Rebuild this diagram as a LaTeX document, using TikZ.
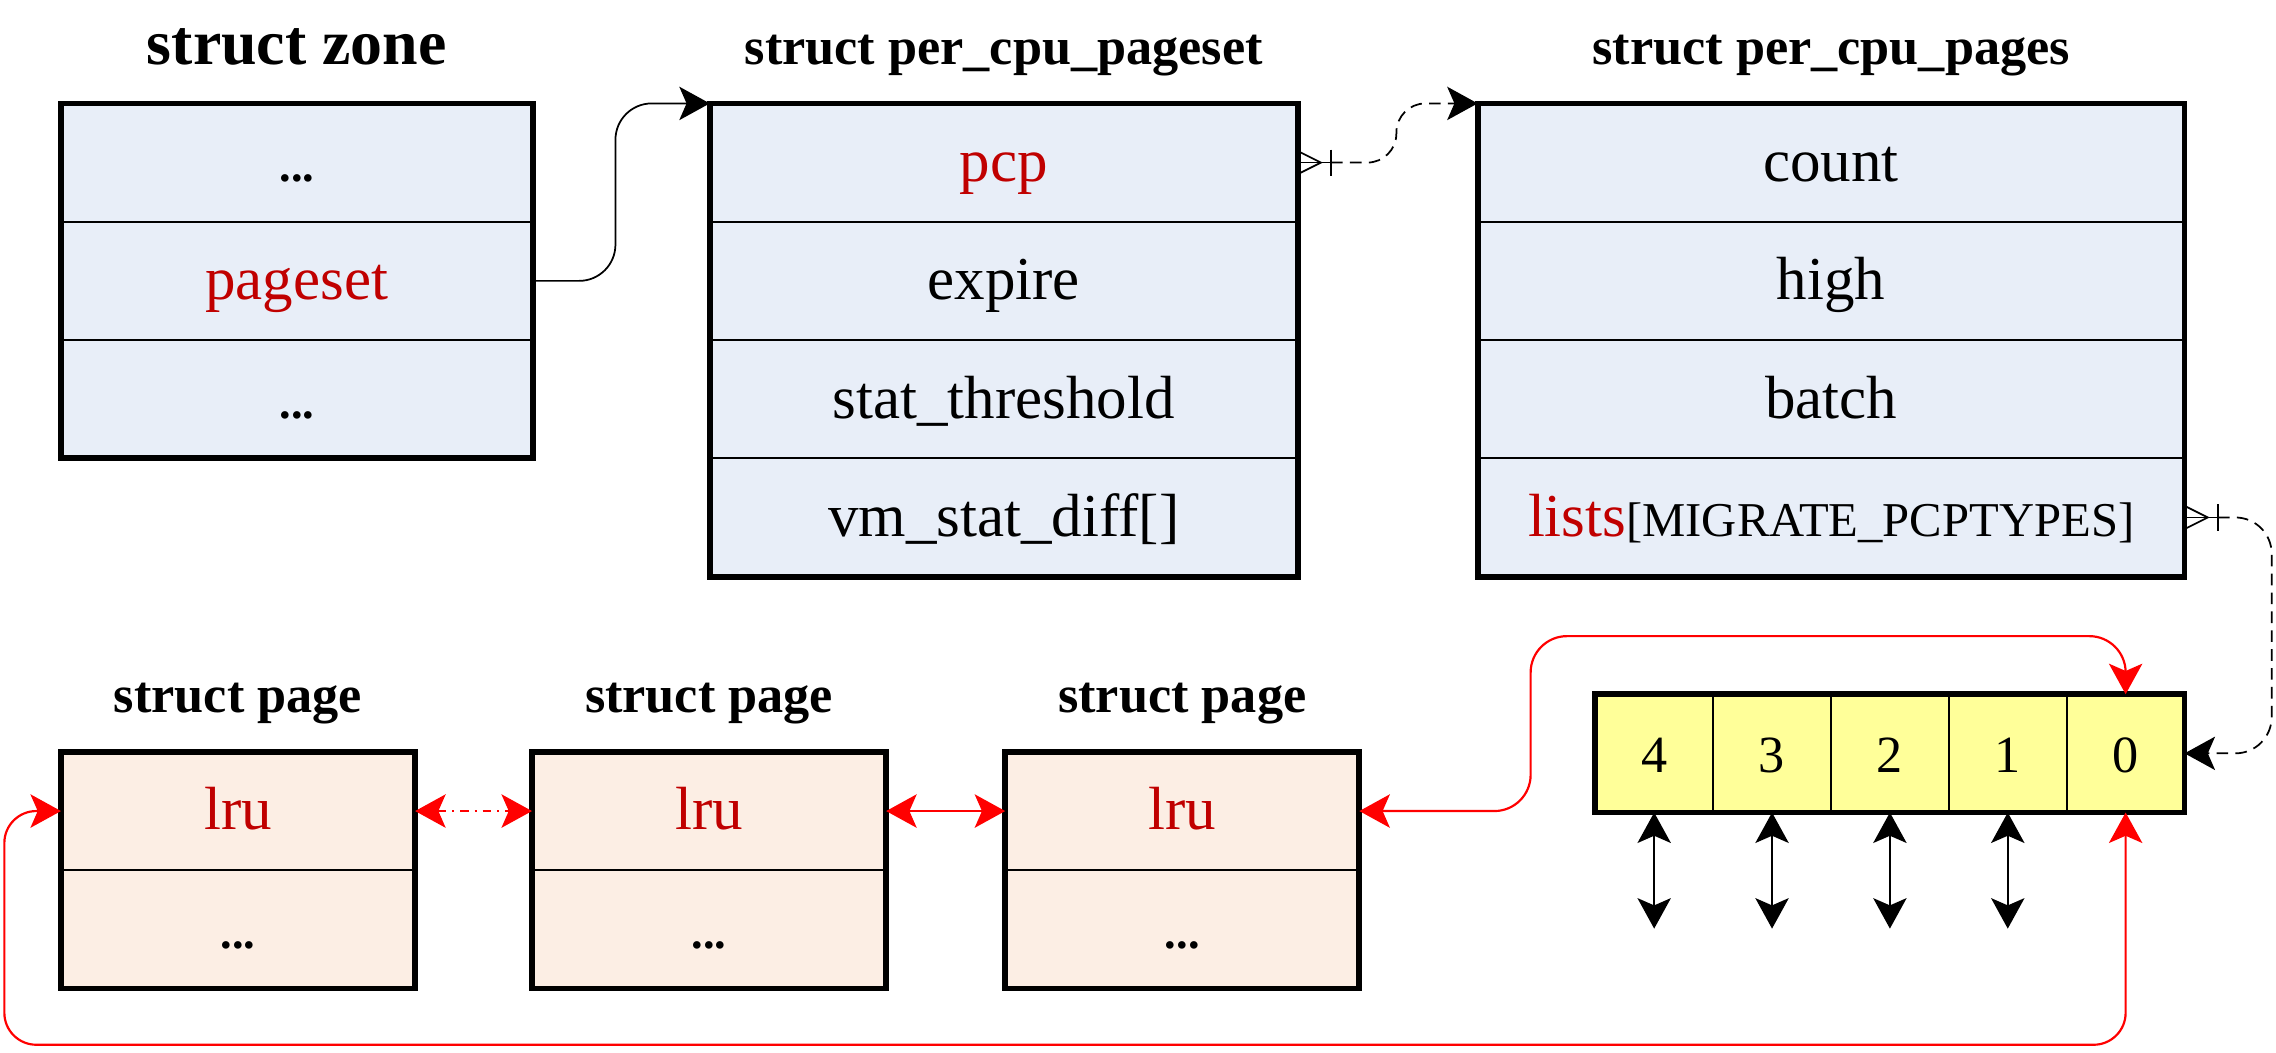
\documentclass[tikz,border=0pt]{standalone}
\usepackage{fontspec}
\setmainfont{Liberation Serif}
\usepackage{xcolor}
\usepackage{tikz}
\usetikzlibrary{arrows.meta,positioning}

\definecolor{structblue}{HTML}{E8EEF8}
\definecolor{pagepeach}{HTML}{FCEEE4}
\definecolor{arrayyellow}{HTML}{FFFF99}
\definecolor{fieldred}{HTML}{C00000}
\definecolor{linkred}{HTML}{FF0000}

\newcommand{\bodyfont}{\fontsize{42}{48}\selectfont}
\newcommand{\titlefont}{\fontsize{36}{42}\selectfont\bfseries}
\newcommand{\zonefont}{\fontsize{44}{50}\selectfont\bfseries}
\newcommand{\dotsfont}{\fontsize{32}{36}\selectfont\bfseries}
\newcommand{\digitfont}{\fontsize{36}{40}\selectfont}

\tikzset{
  crowfoot/.pic={
    \draw[line width=1.2pt] (0,-8) -- (16,0) -- (0,8);
    \draw[line width=1.2pt] (0,0) -- (23,0);
    \draw[line width=1.2pt] (23,-9) -- (23,9);
  }
}

\begin{document}
\begin{tikzpicture}[x=1pt, y=-1pt,
  >={Stealth[length=21pt,width=23pt,inset=5pt]},
  field/.style={draw, line width=1.2pt, fill=structblue, minimum width=#1,
    minimum height=81.5pt, inner sep=0pt, outer sep=0pt, font=\bodyfont,
    text height=36pt, text depth=10pt},
  pagefield/.style={field=244pt, fill=pagepeach},
  cell/.style={draw, line width=1.2pt, fill=arrayyellow, minimum width=81.2pt,
    minimum height=81.5pt, inner sep=0pt, outer sep=0pt, font=\digitfont,
    text height=36pt, text depth=10pt},
  frame/.style={draw, line width=4pt},
  title/.style={font=\titlefont, inner sep=0pt},
  zonetitle/.style={font=\zonefont, inner sep=0pt},
  conn/.style={draw, line width=1.2pt, ->},
  dconn/.style={conn, dash pattern=on 8pt off 5pt},
  rlink/.style={draw=linkred, line width=1.5pt, <->}]
 \useasboundingbox (0,0) rectangle (1568,725);
 %Nodes
	% struct zone
	\node[field=325pt] (z1) at (204.5,112) {\dotsfont ...};
	\node[field=325pt, below=0pt of z1, text=fieldred] (z2) {pageset};
	\node[field=325pt, below=0pt of z2] (z3) {\dotsfont ...};
	\draw[frame] (z1.north west) rectangle (z3.south east);
	\node[zonetitle, anchor=base] at ([yshift=27pt]z1.north) {struct zone};
	% struct per_cpu_pageset
	\node[field=405pt, text=fieldred] (s1) at (691.5,112) {pcp};
	\node[field=405pt, below=0pt of s1] (s2) {expire};
	\node[field=405pt, below=0pt of s2] (s3) {stat\_threshold};
	\node[field=405pt, below=0pt of s3] (s4) {vm\_stat\_diff[]};
	\draw[frame] (s1.north west) rectangle (s4.south east);
	\node[title, anchor=base] at ([yshift=27pt]s1.north) {struct per\_cpu\_pageset};
	% struct per_cpu_pages
	\node[field=487pt] (p1) at (1261.5,112) {count};
	\node[field=487pt, below=0pt of p1] (p2) {high};
	\node[field=487pt, below=0pt of p2] (p3) {batch};
	\node[field=487pt, below=0pt of p3] (p4) {\textcolor{fieldred}{lists}{\fontsize{33.5}{38}\selectfont[MIGRATE\_PCPTYPES]}};
	\draw[frame] (p1.north west) rectangle (p4.south east);
	\node[title, anchor=base] at ([yshift=27pt]p1.north) {struct per\_cpu\_pages};
	% struct page
	\foreach \i/\x in {1/164,2/488.5,3/814.5} {
	  \node[pagefield, text=fieldred] (pg\i) at (\x,558.75) {lru};
	  \node[pagefield, below=0pt of pg\i] (pd\i) {\dotsfont ...};
	  \draw[frame] (pg\i.north west) rectangle (pd\i.south east);
	  \node[title, anchor=base] at ([yshift=27pt]pg\i.north) {struct page};
	}
	% lists array
	\foreach \i in {4,...,0}
	  \node[cell] (cell\i) at ({1139.6+81.2*(4-\i)},519) {\i};
	\draw[frame] (cell4.north west) rectangle (cell0.south east);
	% Arrows
	\draw[conn, rounded corners=25pt] (z2.east) -- ++(57,0) |- (s1.north west);
	\pic at (s1.east) {crowfoot};
	\coordinate (cf1) at ([xshift=23pt]s1.east);
	\draw[dconn, rounded corners=20pt] (cf1) -- ++(45,0) |- (p1.north west);
	\pic at (p4.east) {crowfoot};
	\coordinate (cf2) at ([xshift=23pt]p4.east);
	\draw[dconn, rounded corners=25pt] (cf2) -- ++(37,0) |- (cell0.east);
	\foreach \i in {1,...,4} {
	  \coordinate (e\i) at ([yshift=-80pt]cell\i.south);
	  \draw[conn, <->] (cell\i.south) -- (e\i);
	}
	% lru list
	\draw[rlink, dash pattern=on 6pt off 4pt on 1.5pt off 4pt] (pg1.east) -- (pg2.west);
	\draw[rlink] (pg2.east) -- (pg3.west);
	\draw[rlink, rounded corners=25pt] (cell0.north) -- ++(0,-40) -| ([xshift=118pt]pg3.east) -- (pg3.east);
	\draw[rlink, rounded corners=22pt] (cell0.south) -- ++(0,160) -| ([xshift=-39pt]pg1.west) -- (pg1.west);
\end{tikzpicture}
\end{document}
